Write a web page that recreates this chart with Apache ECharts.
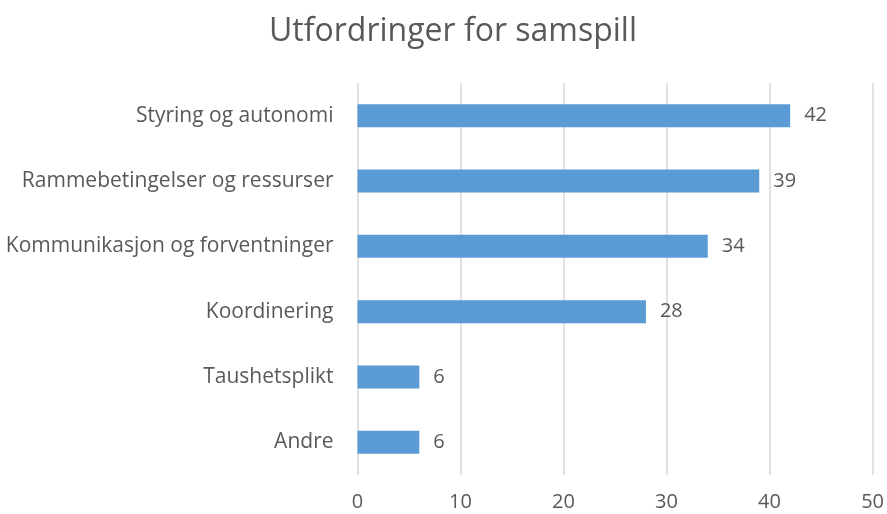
<!DOCTYPE html>
<html lang="nb">
<head>
    <meta charset="UTF-8">
    <title>Utfordringer for samspill</title>
    <script src="https://cdn.jsdelivr.net/npm/echarts@6/dist/echarts.min.js"></script>
    <style>
        html, body { margin: 0; padding: 0; background: #fff; }
        #main { width: 887px; height: 514px; }
    </style>
</head>
<body>
<div id="main"></div>
<script type="text/javascript">
    // data, bottom-to-top order as echarts draws category y axis
    var categories = ['Andre', 'Taushetsplikt', 'Koordinering', 'Kommunikasjon og forventninger', 'Rammebetingelser og ressurser', 'Styring og autonomi'];
    var values = [6, 6, 28, 34, 39, 42];
    var xTicks = [0, 10, 20, 30, 40, 50];

    var textColor = '#595959';
    var font = '"Open Sans", sans-serif';

    var myChart = echarts.init(document.getElementById('main'));
    var option = {
        animation: false,
        title: {
            text: 'Utfordringer for samspill',
            left: 448,
            textAlign: 'center',
            top: 11,
            textStyle: { color: textColor, fontSize: 32, fontWeight: 'normal', fontFamily: font }
        },
        grid: { left: 357.5, right: 14, top: 83, bottom: 39 },
        xAxis: {
            type: 'value',
            min: xTicks[0],
            max: xTicks[xTicks.length - 1],
            interval: 10,
            axisLine: { show: false },
            axisTick: { show: false },
            splitLine: { lineStyle: { color: '#d9d9d9', width: 1.5 } },
            axisLabel: { color: textColor, fontSize: 20, fontFamily: font, margin: 17 }
        },
        yAxis: {
            type: 'category',
            data: categories,
            axisLine: { show: false },
            axisTick: { show: false },
            axisLabel: { color: textColor, fontSize: 21, fontFamily: font, margin: 24 }
        },
        series: [{
            type: 'bar',
            data: values,
            barWidth: 23,
            itemStyle: { color: '#5b9bd5' },
            label: {
                show: true,
                position: 'right',
                distance: 14,
                color: textColor,
                fontSize: 20,
                fontFamily: font
            }
        }]
    };
    myChart.setOption(option);
</script>
</body>
</html>
